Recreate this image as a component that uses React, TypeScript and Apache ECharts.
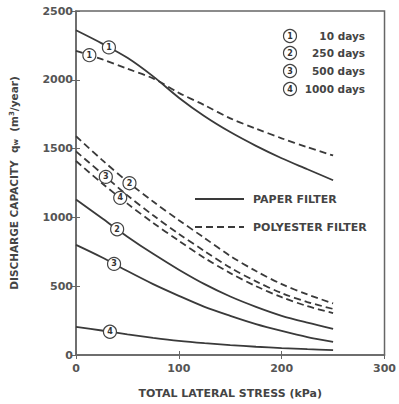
import React, { useEffect, useRef } from "react";
import * as echarts from "echarts";

const stress = [0, 25, 50, 75, 100, 125, 150, 175, 200, 225, 250];

// Paper filter (solid)
const paper10 = [2360, 2265, 2160, 2025, 1870, 1735, 1620, 1520, 1430, 1350, 1270];
const paper250 = [1130, 995, 860, 735, 620, 515, 425, 350, 285, 235, 190];
const paper500 = [800, 710, 610, 515, 430, 350, 285, 225, 175, 130, 95];
const paper1000 = [205, 178, 150, 125, 103, 86, 72, 60, 50, 42, 35];

// Polyester filter (dashed)
const poly10 = [2210, 2150, 2080, 2010, 1905, 1815, 1720, 1645, 1575, 1510, 1450];
const poly250 = [1590, 1420, 1260, 1115, 980, 850, 720, 610, 515, 440, 375];
const poly500 = [1480, 1320, 1160, 1015, 880, 755, 635, 535, 450, 385, 335];
const poly1000 = [1410, 1250, 1100, 960, 830, 705, 595, 500, 420, 355, 305];

const xTicks = [0, 100, 200, 300];
const yTicks = [0, 500, 1000, 1500, 2000, 2500];

const dayLabels = ["10 days", "250 days", "500 days", "1000 days"];
const filterLabels = ["PAPER FILTER", "POLYESTER FILTER"];

const FONT = "DejaVu Sans";
const INK = "#3a3a3a";

function interp(xs: number[], ys: number[], x: number) {
  for (let i = 0; i < xs.length - 1; i++) {
    if (x >= xs[i] && x <= xs[i + 1]) {
      const t = (x - xs[i]) / (xs[i + 1] - xs[i]);
      return ys[i] + t * (ys[i + 1] - ys[i]);
    }
  }
  return ys[ys.length - 1];
}

export default function App() {
  const ref = useRef<HTMLDivElement>(null);
  useEffect(() => {
    if (!ref.current) return;
    const chart = echarts.init(ref.current, null, { renderer: "svg" });

    const DASH = [7, 4];

    const mk = (
      name: string,
      vals: number[],
      dashed: boolean,
      label: string,
      lx: number
    ) => ({
      type: "line",
      name,
      data: stress.map((s, i) => [s, vals[i]]),
      smooth: 0.3,
      symbol: "none",
      lineStyle: {
        color: INK,
        width: 1.8,
        type: dashed ? DASH : "solid",
      },
      itemStyle: { color: INK },
      z: 2,
      markPoint: {
        symbol: "circle",
        symbolSize: 13,
        itemStyle: { color: "#fff", borderColor: "#444", borderWidth: 1.2 },
        label: {
          show: true,
          position: "inside",
          formatter: label,
          fontSize: 8,
          fontWeight: "bold",
          fontFamily: FONT,
          color: "#333",
        },
        data: [{ coord: [lx, interp(stress, vals, lx)], name: label }],
        z: 5,
      },
    });

    const circleX = 290;
    const rowsY = [36, 53, 71, 89];
    const graphicEls: any[] = [];
    rowsY.forEach((y, i) => {
      graphicEls.push({
        type: "circle",
        shape: { cx: circleX, cy: y, r: 6.5 },
        style: { fill: "#fff", stroke: "#444", lineWidth: 1.2 },
        z: 10,
      });
      graphicEls.push({
        type: "text",
        x: circleX,
        y: y,
        style: {
          text: String(i + 1),
          fontSize: 8,
          fontWeight: "bold",
          fontFamily: FONT,
          fill: "#333",
          align: "center",
          verticalAlign: "middle",
        },
        z: 11,
      });
      graphicEls.push({
        type: "text",
        x: 365,
        y: y,
        style: {
          text: dayLabels[i],
          fontSize: 10.5,
          fontWeight: "bold",
          fontFamily: FONT,
          fill: "#444",
          align: "right",
          verticalAlign: "middle",
        },
        z: 11,
      });
    });

    const legendY = [199, 227];
    legendY.forEach((y, i) => {
      graphicEls.push({
        type: "line",
        shape: { x1: 195, y1: y, x2: 244, y2: y },
        style: {
          stroke: INK,
          lineWidth: 1.8,
          lineDash: i === 1 ? DASH : null,
        },
        z: 10,
      });
      graphicEls.push({
        type: "text",
        x: 253,
        y: y,
        style: {
          text: filterLabels[i],
          fontSize: 11,
          fontWeight: "bold",
          fontFamily: FONT,
          fill: "#444",
          align: "left",
          verticalAlign: "middle",
        },
        z: 10,
      });
    });

    const axisText = {
      fontFamily: FONT,
      fontWeight: "bold" as const,
      fontSize: 11,
      color: "#555",
    };

    chart.setOption({
      animation: false,
      backgroundColor: "#fff",
      grid: {
        left: 73,
        right: 12,
        top: 11,
        bottom: 42,
        show: true,
        borderColor: "#666",
        borderWidth: 1.5,
      },
      graphic: graphicEls,
      xAxis: [
        {
          type: "value",
          min: 0,
          max: 300,
          interval: 100,
          name: "TOTAL LATERAL STRESS (kPa)",
          nameLocation: "middle",
          nameGap: 33,
          nameTextStyle: { ...axisText, color: "#444" },
          axisLine: { show: true, lineStyle: { color: "#666", width: 1.5 } },
          axisTick: { show: true, inside: true, length: 4, lineStyle: { color: "#666" } },
          axisLabel: { ...axisText, margin: 8, formatter: (v: number) => (xTicks.includes(v) ? String(v) : "") },
          splitLine: { show: false },
        },
        {
          type: "value",
          position: "top",
          min: 0,
          max: 300,
          interval: 100,
          axisLine: { show: false },
          axisTick: { show: true, inside: true, length: 4, lineStyle: { color: "#666" } },
          axisLabel: { show: false },
          splitLine: { show: false },
        },
      ],
      yAxis: [
        {
          type: "value",
          min: 0,
          max: 2500,
          interval: 500,
          name: "DISCHARGE CAPACITY  q{sub|w}  (m{sup|3}/year)",
          nameLocation: "middle",
          nameGap: 57,
          nameTextStyle: {
            ...axisText,
            fontSize: 10.5,
            color: "#444",
            rich: {
              sub: { fontFamily: FONT, fontWeight: "bold", fontSize: 7, color: "#444", verticalAlign: "bottom", padding: [4, 0, 0, 0] },
              sup: { fontFamily: FONT, fontWeight: "bold", fontSize: 7, color: "#444", verticalAlign: "top", padding: [0, 0, 4, 0] },
            },
          },
          axisLine: { show: true, lineStyle: { color: "#666", width: 1.5 } },
          axisTick: { show: true, length: 5, lineStyle: { color: "#666" } },
          axisLabel: { ...axisText, margin: 3, formatter: (v: number) => (yTicks.includes(v) ? String(v) : "") },
          splitLine: { show: false },
        },
        {
          type: "value",
          position: "right",
          min: 0,
          max: 2500,
          interval: 500,
          axisLine: { show: false },
          axisTick: { show: true, length: 4, lineStyle: { color: "#666" } },
          axisLabel: { show: false },
          splitLine: { show: false },
        },
      ],
      series: [
        mk("PAPER FILTER", paper10, false, "1", 32),
        mk("PAPER FILTER", paper250, false, "2", 40),
        mk("PAPER FILTER", paper500, false, "3", 37),
        mk("PAPER FILTER", paper1000, false, "4", 33),
        mk("POLYESTER FILTER", poly10, true, "1", 13),
        mk("POLYESTER FILTER", poly250, true, "2", 52),
        mk("POLYESTER FILTER", poly500, true, "3", 29),
        mk("POLYESTER FILTER", poly1000, true, "4", 43),
      ],
    });
    return () => chart.dispose();
  }, []);

  return (
    <div
      ref={ref}
      style={{ position: "absolute", left: 0, top: 0, width: 399, height: 404 }}
    />
  );
}
